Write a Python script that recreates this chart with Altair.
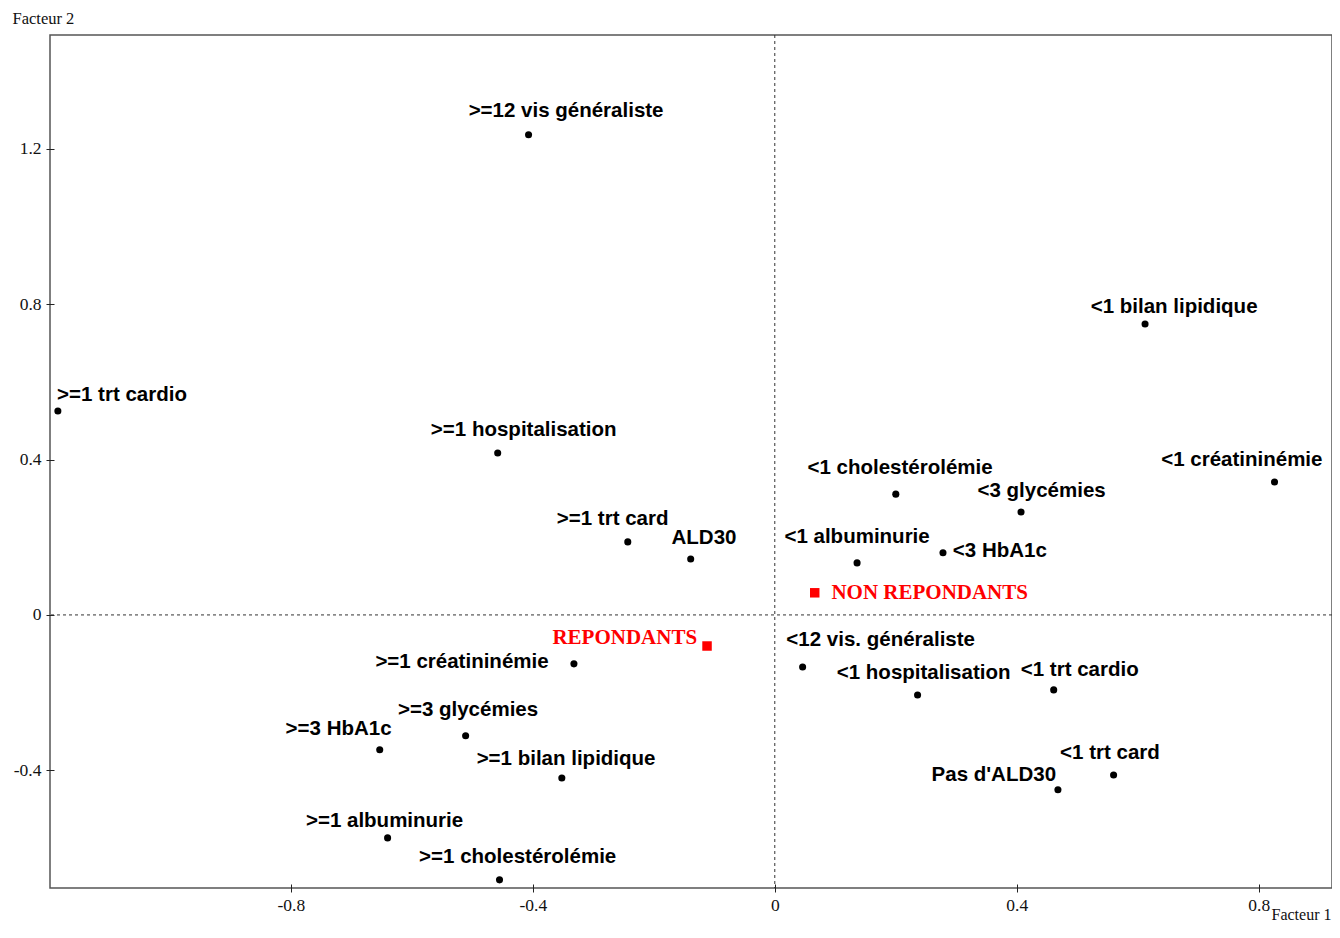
import altair as alt
import pandas as pd

# Modalities (black points)
mod_names = [
    ">=12 vis généraliste", "<1 bilan lipidique", ">=1 trt cardio", ">=1 hospitalisation",
    "<1 cholestérolémie", "<1 créatininémie", "<3 glycémies", ">=1 trt card", "ALD30",
    "<1 albuminurie", "<3 HbA1c", "<12 vis. généraliste", ">=1 créatininémie",
    "<1 hospitalisation", "<1 trt cardio", ">=3 glycémies", ">=3 HbA1c",
    ">=1 bilan lipidique", "<1 trt card", "Pas d'ALD30", ">=1 albuminurie",
    ">=1 cholestérolémie",
]
mod_f1 = [-0.407, 0.612, -1.185, -0.458, 0.200, 0.826, 0.407, -0.243, -0.139,
          0.136, 0.278, 0.046, -0.332, 0.236, 0.461, -0.511, -0.653, -0.352,
          0.560, 0.468, -0.640, -0.455]
mod_f2 = [1.236, 0.749, 0.525, 0.417, 0.311, 0.342, 0.265, 0.188, 0.144,
          0.134, 0.160, -0.134, -0.126, -0.206, -0.193, -0.311, -0.347, -0.420,
          -0.412, -0.450, -0.574, -0.682]
# label anchor (centre of text) in factor coordinates
mod_lab_f1 = [-0.345, 0.660, -1.079, -0.415, 0.207, 0.772, 0.441, -0.268, -0.117,
              0.136, 0.372, 0.175, -0.517, 0.246, 0.504, -0.507, -0.721, -0.345,
              0.554, 0.362, -0.645, -0.425]
mod_lab_f2 = [1.297, 0.793, 0.566, 0.476, 0.378, 0.399, 0.319, 0.247, 0.198,
              0.201, 0.165, -0.064, -0.121, -0.149, -0.142, -0.245, -0.293, -0.371,
              -0.355, -0.412, -0.530, -0.623]

# Supplementary groups (red squares)
grp_names = ["NON REPONDANTS", "REPONDANTS"]
grp_f1 = [0.066, -0.112]
grp_f2 = [0.057, -0.080]
grp_lab_f1 = [0.256, -0.248]
grp_lab_f2 = [0.057, -0.059]

x_ticks = [-0.8, -0.4, 0, 0.4, 0.8]
y_ticks = [-0.4, 0, 0.4, 0.8, 1.2]

mods = pd.DataFrame({"name": mod_names, "f1": mod_f1, "f2": mod_f2,
                     "lx": mod_lab_f1, "ly": mod_lab_f2})
grps = pd.DataFrame({"name": grp_names, "f1": grp_f1, "f2": grp_f2,
                     "lx": grp_lab_f1, "ly": grp_lab_f2})
zero = pd.DataFrame({"z": [0]})

xs = alt.Scale(domain=[-1.198, 0.921], nice=False, zero=False)
ys = alt.Scale(domain=[-0.703, 1.493], nice=False, zero=False)

xaxis = alt.Axis(values=x_ticks, labelExpr="toString(datum.value)", grid=False,
                 domain=False, offset=-4, tickSize=8, tickColor="#222",
                 labelFont="Liberation Serif", labelFontSize=17.5, labelColor="#111",
                 labelPadding=4, title="Facteur 1", titleFont="Liberation Serif",
                 titleFontSize=16, titleFontWeight="normal", titleColor="#111",
                 titleAnchor="end", titleAlign="right", titleX=1281, titleY=38,
                 titleBaseline="bottom")
yaxis = alt.Axis(values=y_ticks, labelExpr="toString(datum.value)", grid=False,
                 domain=False, offset=-4, tickSize=8, tickColor="#222",
                 labelFont="Liberation Serif", labelFontSize=17.5, labelColor="#111",
                 labelPadding=5, title="Facteur 2", titleFont="Liberation Serif",
                 titleFontSize=16.5, titleFontWeight="normal", titleColor="#111",
                 titleAngle=0, titleAlign="left", titleBaseline="bottom",
                 titleX=-42, titleY=-9)

vrule = alt.Chart(zero).mark_rule(strokeDash=[3, 3], color="#333", strokeWidth=1).encode(
    x=alt.X("z:Q", scale=xs, axis=xaxis))
hrule = alt.Chart(zero).mark_rule(strokeDash=[3, 3], color="#333", strokeWidth=1).encode(
    y=alt.Y("z:Q", scale=ys, axis=yaxis))

pts = alt.Chart(mods).mark_point(shape="circle", filled=True, size=50, color="black",
                                 opacity=1).encode(
    x=alt.X("f1:Q", scale=xs), y=alt.Y("f2:Q", scale=ys))
sq = alt.Chart(grps).mark_point(shape="square", filled=True, size=90, color="#ff0000",
                                opacity=1).encode(
    x=alt.X("f1:Q", scale=xs), y=alt.Y("f2:Q", scale=ys))

txt = alt.Chart(mods).mark_text(font="Liberation Sans", fontWeight="bold", fontSize=20.5,
                                color="black", align="center", baseline="middle").encode(
    x=alt.X("lx:Q", scale=xs), y=alt.Y("ly:Q", scale=ys), text="name:N")
gtxt = alt.Chart(grps).mark_text(font="Liberation Serif", fontWeight="bold", fontSize=21,
                                 color="#ff0000", align="center", baseline="middle").encode(
    x=alt.X("lx:Q", scale=xs), y=alt.Y("ly:Q", scale=ys), text="name:N")

chart = alt.layer(vrule, hrule, pts, sq, txt, gtxt).properties(
    width=1282, height=853,
    autosize=alt.AutoSizeParams(type="none"),
    padding={"left": 42, "top": 27, "right": 0, "bottom": 42},
    background="white",
).configure_view(stroke="#555", strokeWidth=1.5)

chart.save("out.html", embed_options={"renderer": "svg", "actions": False})
